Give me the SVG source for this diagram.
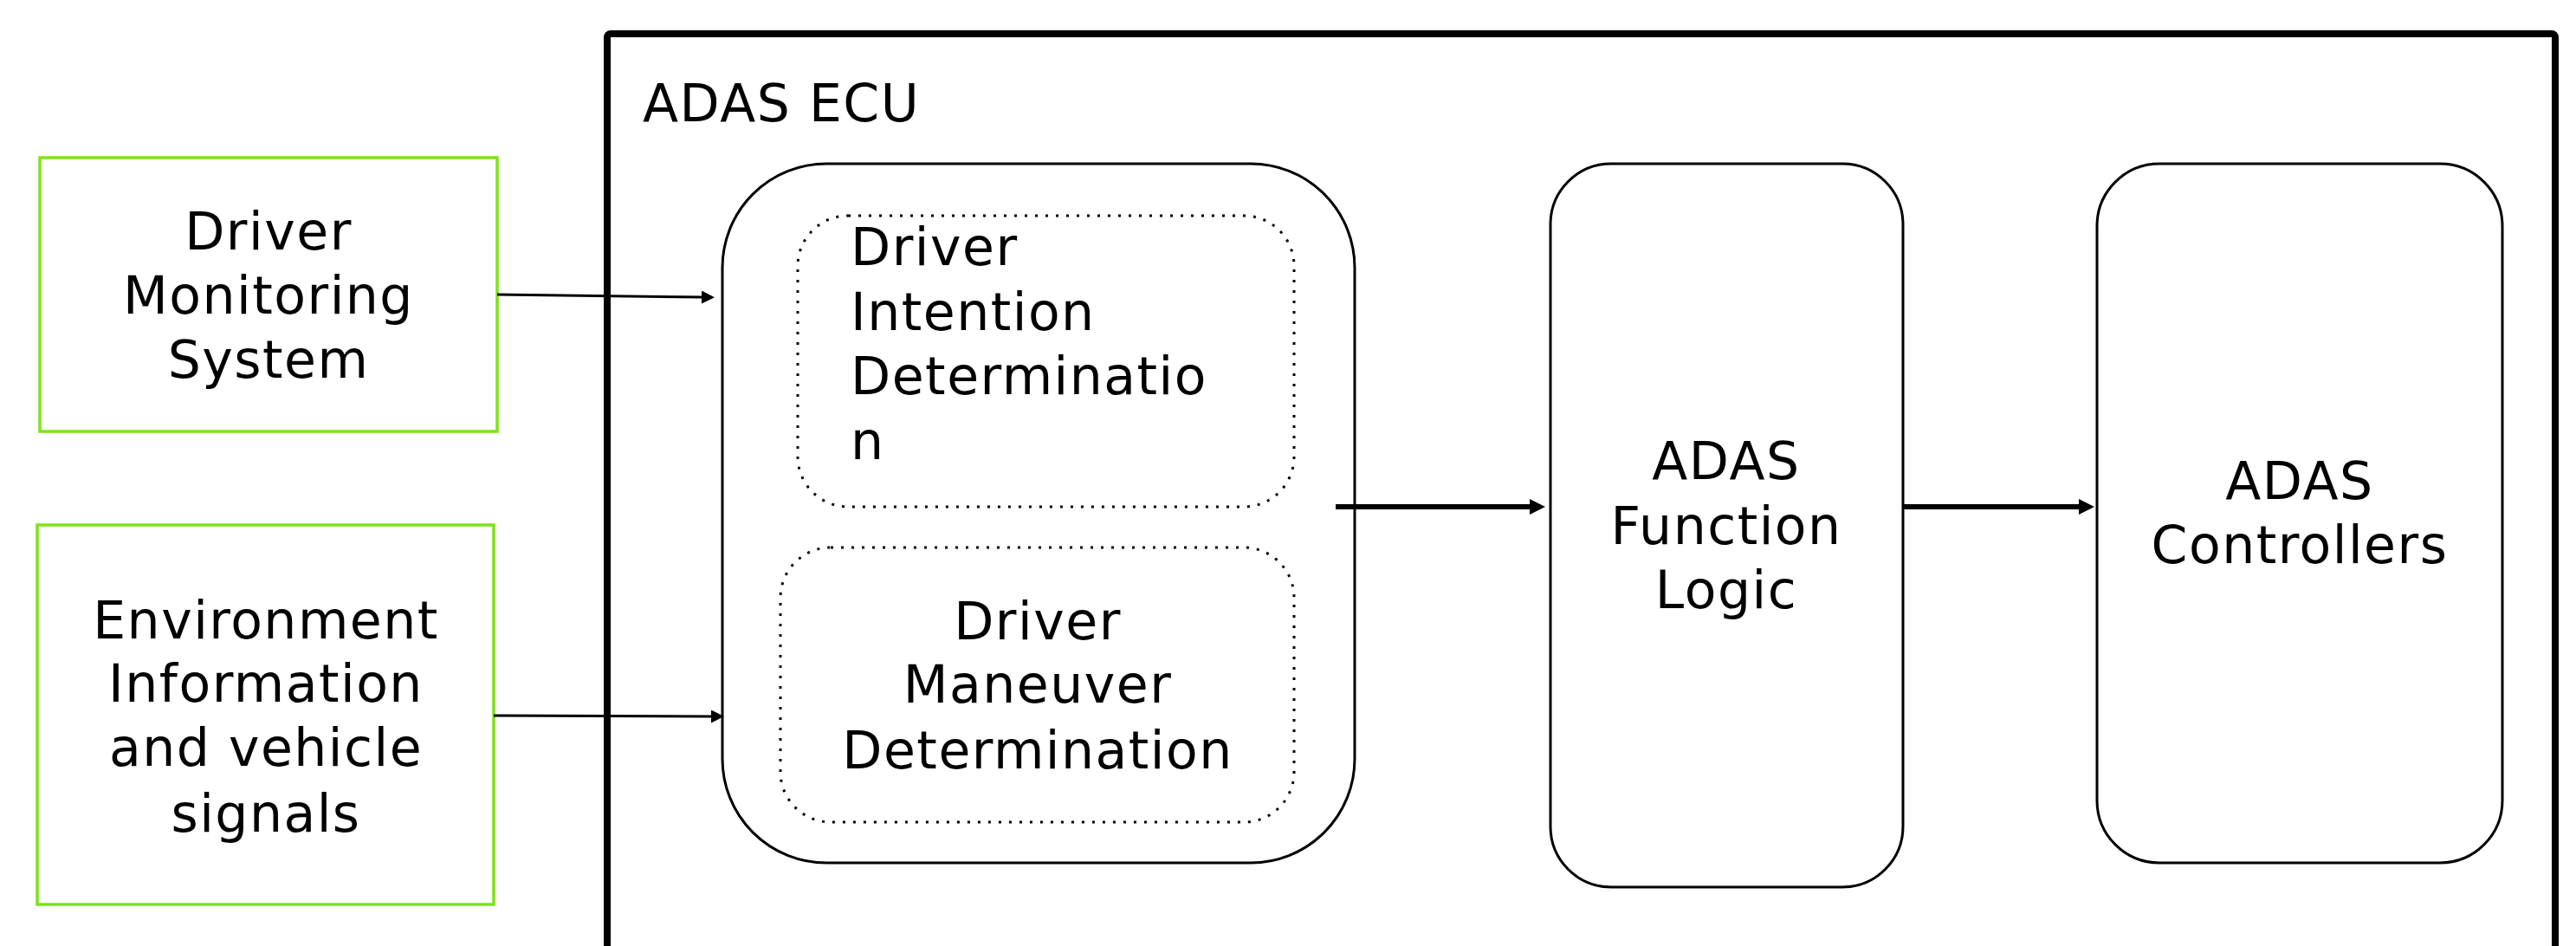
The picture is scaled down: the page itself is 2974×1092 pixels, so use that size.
<svg xmlns="http://www.w3.org/2000/svg" width="2974" height="1092" viewBox="0 0 2974 1092">
<style>
.t{font-family:"DejaVu Sans","Liberation Sans",sans-serif;font-size:60px;fill:#000;letter-spacing:1.5px}
.c{text-anchor:middle}
.green{fill:#fff;stroke:#7ee21b;stroke-width:3.5}
.solid{fill:#fff;stroke:#000;stroke-width:3}
.dot{fill:none;stroke:#000;stroke-width:3;stroke-dasharray:3 9}
.thin{stroke:#000;stroke-width:3;fill:none}
.thick{stroke:#000;stroke-width:6;fill:none}
</style>
<defs>
<marker id="ah" markerUnits="userSpaceOnUse" markerWidth="16" markerHeight="16" refX="0" refY="7.5" orient="auto"><path d="M0,0 L15,7.5 L0,15 Z" fill="#000"/></marker>
<marker id="ahb" markerUnits="userSpaceOnUse" markerWidth="20" markerHeight="20" refX="0" refY="9" orient="auto"><path d="M0,0 L18,9 L0,18 Z" fill="#000"/></marker>
</defs>
<rect width="2974" height="1092" fill="#fff"/>
<g id="ecu">
<rect x="701" y="39" width="2249" height="1100" rx="4" fill="none" stroke="#000" stroke-width="8"/>
<text class="t" x="742" y="140">ADAS ECU</text>
</g>
<g id="dms">
<rect class="green" x="46" y="182" width="528" height="316"/>
<text class="t c" x="310" y="288">Driver</text>
<text class="t c" x="310" y="362">Monitoring</text>
<text class="t c" x="310" y="436">System</text>
</g>
<g id="env">
<rect class="green" x="43" y="606" width="527" height="438"/>
<text class="t c" x="307" y="737">Environment</text>
<text class="t c" x="307" y="810">Information</text>
<text class="t c" x="307" y="884">and vehicle</text>
<text class="t c" x="307" y="960">signals</text>
</g>
<g id="driver-module">
<rect class="solid" x="834" y="189" width="730" height="807" rx="120" ry="120"/>
</g>
<g id="intention">
<rect class="dot" x="921" y="249" width="573" height="336" rx="58" ry="58"/>
<text class="t" x="982" y="306">Driver</text>
<text class="t" x="982" y="381">Intention</text>
<text class="t" x="982" y="455">Determinatio</text>
<text class="t" x="982" y="530">n</text>
</g>
<g id="maneuver">
<rect class="dot" x="901" y="632" width="593" height="317" rx="58" ry="58"/>
<text class="t c" x="1198" y="738">Driver</text>
<text class="t c" x="1198" y="811">Maneuver</text>
<text class="t c" x="1198" y="887">Determination</text>
</g>
<g id="function">
<rect class="solid" x="1790" y="189" width="407" height="835" rx="70" ry="70"/>
<text class="t c" x="1993" y="553">ADAS</text>
<text class="t c" x="1993" y="628">Function</text>
<text class="t c" x="1993" y="702">Logic</text>
</g>
<g id="controllers">
<rect class="solid" x="2421" y="189" width="468" height="807" rx="72" ry="72"/>
<text class="t c" x="2655" y="576">ADAS</text>
<text class="t c" x="2655" y="650">Controllers</text>
</g>
<g id="connectors">
<path class="thin" d="M574,340 L810,343" marker-end="url(#ah)"/>
<path class="thin" d="M570,826 L821,827" marker-end="url(#ah)"/>
<path class="thick" d="M1542,585 L1766,585" marker-end="url(#ahb)"/>
<path class="thick" d="M2197,585 L2400,585" marker-end="url(#ahb)"/>
</g>
</svg>
